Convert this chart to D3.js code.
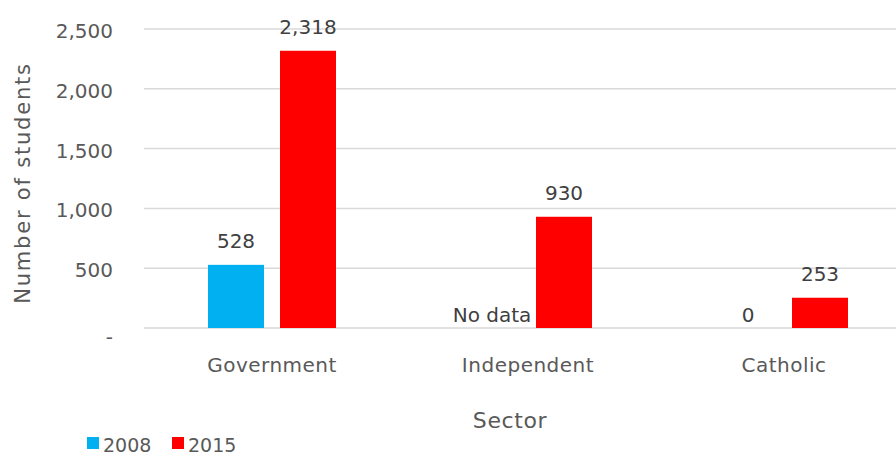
<!DOCTYPE html>
<html>
<head>
<meta charset="utf-8">
<script src="https://cdn.jsdelivr.net/npm/d3@7"></script>
<style>
  html, body { margin: 0; padding: 0; background: #fff; }
  svg { display: block; font-family: "DejaVu Sans", Verdana, sans-serif; }
</style>
</head>
<body>
<svg id="chart" width="896" height="457"></svg>
<script>
// Students by school sector, 2008 vs 2015
const sectors = ["Government", "Independent", "Catholic"];
const seriesNames = ["2008", "2015"];
const values2008 = [528, null, 0];     // null = no data collected
const values2015 = [2318, 930, 253];
const yTicks = [0, 500, 1000, 1500, 2000, 2500];
const seriesColors = ["#00B0F0", "#FF0000"];

const svg = d3.select("#chart");
const W = 896, H = 457;
const plot = { left: 144, right: 912, top: 29, bottom: 328 };

const x0 = d3.scaleBand()
  .domain(sectors)
  .range([plot.left, plot.right])
  .paddingInner(0.5)
  .paddingOuter(0.25);

const x1 = d3.scaleBand()
  .domain(seriesNames)
  .range([0, x0.bandwidth()])
  .paddingInner(16 / 72);

const y = d3.scaleLinear()
  .domain([0, 2500])
  .range([plot.bottom, plot.top]);

const color = d3.scaleOrdinal().domain(seriesNames).range(seriesColors);

// Horizontal gridlines + y tick labels
const yAxis = d3.axisLeft(y)
  .tickValues(yTicks)
  .tickSize(0)
  .tickPadding(0)
  .tickFormat(d => d === 0 ? "-" : d3.format(",")(d));

const gy = svg.append("g")
  .attr("transform", `translate(113,0)`)
  .call(yAxis);
gy.select(".domain").remove();
gy.selectAll("text")
  .attr("fill", "#595959")
  .attr("font-size", 20)
  .attr("font-family", "DejaVu Sans, Verdana, sans-serif")
  .attr("dy", d => d === 0 ? "0.75em" : "0.42em");

svg.append("g")
  .selectAll("line")
  .data(yTicks)
  .join("line")
  .attr("x1", plot.left)
  .attr("x2", W)
  .attr("y1", d => y(d))
  .attr("y2", d => y(d))
  .attr("stroke", "#D9D9D9")
  .attr("stroke-width", 1.5);

// Rows of [sector, series, value]
const rows = [];
sectors.forEach((s, i) => {
  rows.push({ sector: s, series: "2008", value: values2008[i] });
  rows.push({ sector: s, series: "2015", value: values2015[i] });
});

const groups = svg.append("g");

groups.selectAll("rect")
  .data(rows.filter(d => d.value !== null && d.value > 0))
  .join("rect")
  .attr("x", d => x0(d.sector) + x1(d.series))
  .attr("width", x1.bandwidth())
  .attr("y", d => y(d.value))
  .attr("height", d => y(0) - y(d.value))
  .attr("fill", d => color(d.series));

// Value labels
groups.selectAll("text.val")
  .data(rows)
  .join("text")
  .attr("class", "val")
  .attr("x", d => x0(d.sector) + x1(d.series) + x1.bandwidth() / 2)
  .attr("y", d => (d.value === null || d.value === 0) ? y(0) - 6 : y(d.value) - 17)
  .attr("text-anchor", "middle")
  .attr("font-size", 20)
  .attr("fill", "#404040")
  .text(d => d.value === null ? "No data" : d3.format(",")(d.value));

// Category labels
const gx = svg.append("g")
  .attr("transform", `translate(0,${plot.bottom})`)
  .call(d3.axisBottom(x0).tickSize(0).tickPadding(0));
gx.select(".domain").remove();
gx.selectAll("text")
  .attr("fill", "#595959")
  .attr("font-size", 20)
  .attr("font-family", "DejaVu Sans, Verdana, sans-serif")
  .attr("letter-spacing", 0.5)
  .attr("dy", 0)
  .attr("y", 44);

// Axis titles
svg.append("text")
  .attr("x", 510)
  .attr("y", 428)
  .attr("text-anchor", "middle")
  .attr("font-size", 22)
  .attr("letter-spacing", 0.6)
  .attr("fill", "#595959")
  .text("Sector");

svg.append("text")
  .attr("transform", "translate(30,183) rotate(-90)")
  .attr("text-anchor", "middle")
  .attr("font-size", 21)
  .attr("letter-spacing", 1.8)
  .attr("fill", "#595959")
  .text("Number of students");

// Legend
const legend = svg.append("g");
const legendX = [87, 172];
seriesNames.forEach((s, i) => {
  legend.append("rect")
    .attr("x", legendX[i])
    .attr("y", 437)
    .attr("width", 12)
    .attr("height", 12)
    .attr("fill", color(s));
  legend.append("text")
    .attr("x", legendX[i] + 16)
    .attr("y", 452)
    .attr("font-size", 19)
    .attr("fill", "#595959")
    .text(s);
});
</script>
</body>
</html>
